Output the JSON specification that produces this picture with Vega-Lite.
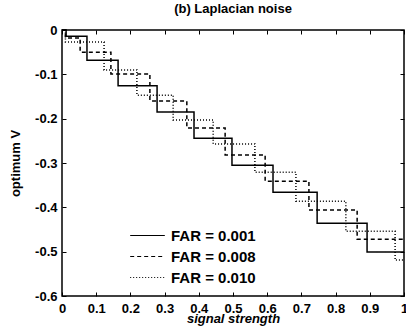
{
  "$schema": "https://vega.github.io/schema/vega-lite/v6.json",
  "width": 342,
  "height": 266,
  "autosize": {"type": "none"},
  "padding": {"left": 62, "top": 30, "right": 2, "bottom": 35},
  "background": "white",
  "title": {"text": "(b) Laplacian noise", "fontSize": 13, "font": "Liberation Sans", "fontWeight": "bold", "offset": 8, "color": "black"},
  "config": {
    "view": {"stroke": "black", "strokeWidth": 1.5},
    "axis": {"domain": false, "grid": false, "labelFont": "Liberation Sans", "labelFontWeight": "bold", "labelFontSize": 13, "labelColor": "black", "titleFont": "Liberation Sans", "titleFontWeight": "bold", "titleFontSize": 13, "titleColor": "black", "tickColor": "black", "tickSize": -4, "tickWidth": 1}
  },
  "data": {"values": [
    {"x": 0, "y": 0, "FAR": "FAR = 0.001"},
    {"x": 0.012, "y": -0.014, "FAR": "FAR = 0.001"},
    {"x": 0.073, "y": -0.068, "FAR": "FAR = 0.001"},
    {"x": 0.164, "y": -0.126, "FAR": "FAR = 0.001"},
    {"x": 0.278, "y": -0.185, "FAR": "FAR = 0.001"},
    {"x": 0.386, "y": -0.244, "FAR": "FAR = 0.001"},
    {"x": 0.497, "y": -0.305, "FAR": "FAR = 0.001"},
    {"x": 0.617, "y": -0.366, "FAR": "FAR = 0.001"},
    {"x": 0.746, "y": -0.436, "FAR": "FAR = 0.001"},
    {"x": 0.892, "y": -0.501, "FAR": "FAR = 0.001"},
    {"x": 1.0, "y": -0.501, "FAR": "FAR = 0.001"},
    {"x": 0, "y": 0, "FAR": "FAR = 0.008"},
    {"x": 0.01, "y": -0.018, "FAR": "FAR = 0.008"},
    {"x": 0.053, "y": -0.05, "FAR": "FAR = 0.008"},
    {"x": 0.143, "y": -0.099, "FAR": "FAR = 0.008"},
    {"x": 0.257, "y": -0.16, "FAR": "FAR = 0.008"},
    {"x": 0.365, "y": -0.221, "FAR": "FAR = 0.008"},
    {"x": 0.477, "y": -0.282, "FAR": "FAR = 0.008"},
    {"x": 0.594, "y": -0.341, "FAR": "FAR = 0.008"},
    {"x": 0.722, "y": -0.406, "FAR": "FAR = 0.008"},
    {"x": 0.863, "y": -0.472, "FAR": "FAR = 0.008"},
    {"x": 1.0, "y": -0.472, "FAR": "FAR = 0.008"},
    {"x": 0, "y": 0, "FAR": "FAR = 0.010"},
    {"x": 0.01, "y": -0.027, "FAR": "FAR = 0.010"},
    {"x": 0.123, "y": -0.09, "FAR": "FAR = 0.010"},
    {"x": 0.219, "y": -0.147, "FAR": "FAR = 0.010"},
    {"x": 0.325, "y": -0.203, "FAR": "FAR = 0.010"},
    {"x": 0.442, "y": -0.257, "FAR": "FAR = 0.010"},
    {"x": 0.564, "y": -0.321, "FAR": "FAR = 0.010"},
    {"x": 0.684, "y": -0.386, "FAR": "FAR = 0.010"},
    {"x": 0.83, "y": -0.454, "FAR": "FAR = 0.010"},
    {"x": 0.974, "y": -0.519, "FAR": "FAR = 0.010"},
    {"x": 1.0, "y": -0.519, "FAR": "FAR = 0.010"}
  ]},
  "layer": [
    {
      "mark": {"type": "line", "interpolate": "step-after", "color": "black", "strokeWidth": 1.5},
      "encoding": {
        "x": {"field": "x", "type": "quantitative", "scale": {"domain": [0, 1], "nice": false}, "axis": {"title": "signal strength", "titleFontStyle": "italic", "titlePadding": -3, "values": [0, 0.1, 0.2, 0.3, 0.4, 0.5, 0.6, 0.7, 0.8, 0.9, 1], "labelExpr": "replace(format(datum.value, '~g'), '\u2212', '-')", "labelPadding": 10, "labelFlush": false}},
        "y": {"field": "y", "type": "quantitative", "scale": {"domain": [-0.6, 0], "nice": false}, "axis": {"title": "optimum V", "titlePadding": 12, "values": [-0.6, -0.5, -0.4, -0.3, -0.2, -0.1, 0], "labelExpr": "replace(format(datum.value, '~g'), '\u2212', '-')", "labelPadding": 9, "labelFlush": false}},
        "strokeDash": {"field": "FAR", "type": "nominal", "scale": {"domain": ["FAR = 0.001", "FAR = 0.008", "FAR = 0.010"], "range": [[1, 0], [4, 3], [1, 2]]},
          "legend": {"title": null, "orient": "none", "legendX": 76, "legendY": 196, "symbolType": "M-2,0H2", "symbolSize": 300, "symbolFillColor": "transparent", "symbolStrokeColor": "black", "symbolStrokeWidth": 1.2, "labelFont": "Liberation Sans", "labelFontWeight": "bold", "labelFontSize": 15, "labelColor": "black", "labelOffset": 14, "rowPadding": 3}}
      }
    },
    {
      "mark": {"type": "line", "opacity": 0},
      "encoding": {
        "x": {"field": "x", "type": "quantitative", "scale": {"domain": [0, 1], "nice": false}, "axis": {"orient": "top", "title": null, "labels": false, "values": [0, 0.1, 0.2, 0.3, 0.4, 0.5, 0.6, 0.7, 0.8, 0.9, 1]}},
        "y": {"field": "y", "type": "quantitative", "scale": {"domain": [-0.6, 0], "nice": false}, "axis": {"orient": "right", "title": null, "labels": false, "values": [-0.6, -0.5, -0.4, -0.3, -0.2, -0.1, 0]}}
      }
    }
  ],
  "resolve": {"axis": {"x": "independent", "y": "independent"}}
}
